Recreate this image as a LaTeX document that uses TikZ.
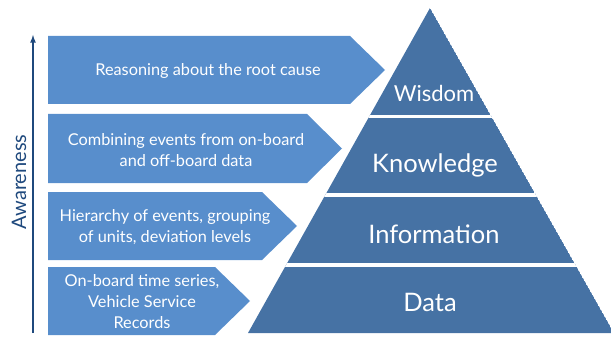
\documentclass[tikz,border=0pt]{standalone}
\usepackage{fontspec}
\setmainfont{Lato}
\usetikzlibrary{positioning,arrows}
\definecolor{boxblue}{RGB}{88,142,204}
\definecolor{pyrblue}{RGB}{70,114,164}
\definecolor{awareblue}{RGB}{31,73,125}
\tikzset{
  levelbox/.style={fill=boxblue},
  boxtext/.style={text=white,align=center,font=\fontsize{16.3}{21}\selectfont},
  pyrtext/.style={text=white,anchor=base,font=\fontsize{25.5}{28}\selectfont},
}
\begin{document}
\begin{tikzpicture}[x=1pt,y=-1pt]
        \useasboundingbox (0,0) rectangle (611,337);
        %% Pyramid
        \coordinate (apex) at (430,8);
        \coordinate (baseL) at (248,333);
        \coordinate (baseR) at (614,333);
        \begin{scope}
            \clip (apex) -- (baseR) -- (baseL) -- cycle;
            \fill[pyrblue] (apex) -- (baseR) -- (baseL) -- cycle;
            \foreach \y in {116.5,195,265}
                \draw[white,line width=3.5pt] (240,\y) -- (620,\y);
        \end{scope}

        \node[pyrtext,font=\fontsize{22}{26}\selectfont] (wisdom) at (434,102) {Wisdom};
        \node[pyrtext] (knowledge) at (435,172) {Knowledge};
        \node[pyrtext] (information) at (434,243) {Information};
        \node[pyrtext] (data) at (430,311) {Data};

        %% Level boxes
        \foreach \t/\b/\x in {36/104/385,114/183/342,192/260/297,267/335/250}
            \fill[levelbox] (48,\t) -- ({\x-35},\t) -- (\x,{(\t+\b)/2})
                -- ({\x-35},\b) -- (48,\b) -- cycle;

        \node[boxtext] (reason) at (208,71) {Reasoning about the root cause};
        \node[boxtext] (combine) at (186,150) {Combining events from on-board\\and off-board data};
        \node[boxtext] (hierarchy) at (165,227) {Hierarchy of events, grouping\\of units, deviation levels};
        \node[boxtext] (onboard) at (142,302) {On-board time series,\\Vehicle Service\\Records};

        %% Awareness axis
        \coordinate (awbot) at (33,333);
        \coordinate (awtop) at (33,35);
        \draw[awareblue,line width=1.6pt,-latex] (awbot) -- (awtop);
        \node[rotate=90,anchor=base,text=awareblue,font=\fontsize{20}{24}\selectfont] (aware) at (26,182) {Awareness};
    \end{tikzpicture}
\end{document}
